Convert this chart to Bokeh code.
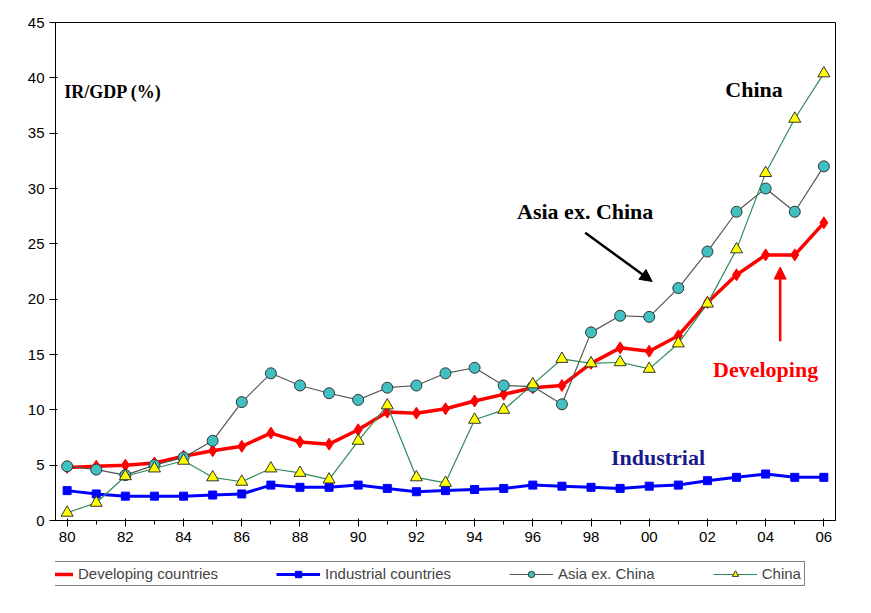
from bokeh.plotting import figure
from bokeh.layouts import column
from bokeh.models import Legend, Arrow, NormalHead, Label, FixedTicker
from bokeh.embed import file_html
from bokeh.resources import INLINE

years = list(range(1980, 2007))
developing = [4.8, 4.9, 5.0, 5.2, 5.8, 6.3, 6.7, 7.9, 7.1, 6.9, 8.2, 9.8, 9.7, 10.1, 10.8, 11.4,
              12.0, 12.2, 14.2, 15.6, 15.3, 16.7, 19.7, 22.2, 24.0, 24.0, 26.9]
industrial = [2.7, 2.4, 2.2, 2.2, 2.2, 2.3, 2.4, 3.2, 3.0, 3.0, 3.2, 2.9, 2.6, 2.7, 2.8, 2.9,
              3.2, 3.1, 3.0, 2.9, 3.1, 3.2, 3.6, 3.9, 4.2, 3.9, 3.9]
asia_ex_china = [4.9, 4.6, 4.1, 5.0, 5.7, 7.2, 10.7, 13.3, 12.2, 11.5, 10.9, 12.0, 12.2, 13.3, 13.8, 12.2,
                 12.1, 10.5, 17.0, 18.5, 18.4, 21.0, 24.3, 27.9, 30.0, 27.9, 32.0]
china = [0.7, 1.6, 4.0, 4.7, 5.4, 3.9, 3.5, 4.7, 4.3, 3.7, 7.2, 10.4, 3.9, 3.4, 9.1, 10.0,
         12.3, 14.6, 14.2, 14.3, 13.7, 16.0, 19.6, 24.5, 31.4, 36.3, 40.4]
tick_years = list(range(1980, 2007, 2))
tick_labels = {y: f"{y % 100:02d}" for y in tick_years}
names = ["Developing countries", "Industrial countries", "Asia ex. China", "China"]


def add_series(fig, xs, ys):
    out = []
    out.append((fig.line(xs, ys[0], line_color="red", line_width=3.5),
                fig.scatter(xs, ys[0], marker="diamond", size=12, color="red")))
    out.append((fig.line(xs, ys[1], line_color="blue", line_width=3),
                fig.scatter(xs, ys[1], marker="square", size=8, color="blue")))
    out.append((fig.line(xs, ys[2], line_color="#555555", line_width=1.2),
                fig.scatter(xs, ys[2], marker="circle", size=11, fill_color="#40c0c0", line_color="#333333")))
    out.append((fig.line(xs, ys[3], line_color="#2e8b57", line_width=1.2),
                fig.scatter(xs, ys[3], marker="triangle", size=12, fill_color="yellow", line_color="#333333")))
    return out


p = figure(width=855, height=550, x_range=(1979.6, 2006.4), y_range=(0, 45),
           output_backend="svg", toolbar_location=None,
           min_border_left=55, min_border_right=20, min_border_top=22, min_border_bottom=30)
p.xgrid.visible = False
p.ygrid.visible = False
p.outline_line_color = "black"

p.xaxis.ticker = FixedTicker(ticks=tick_years, minor_ticks=years)
p.xaxis.major_label_overrides = tick_labels
p.yaxis.ticker = FixedTicker(ticks=list(range(0, 46, 5)))
for ax in (p.xaxis[0], p.yaxis[0]):
    ax.major_label_text_font = "Liberation Sans"
    ax.major_label_text_font_size = "15px"
    ax.major_label_text_color = "black"
    ax.axis_line_color = "black"
    ax.major_tick_line_color = "black"
    ax.minor_tick_line_color = "black"
p.yaxis.minor_tick_line_color = None

add_series(p, years, [developing, industrial, asia_ex_china, china])

serif = dict(text_font="Liberation Serif", text_font_style="bold", text_font_size="22px")
p.add_layout(Label(x=1979.9, y=37.8, text="IR/GDP (%)", text_font="Liberation Serif",
                   text_font_style="bold", text_font_size="18px", text_color="black"))
p.add_layout(Label(x=2003.6, y=37.8, text="China", text_align="center", text_color="black", **serif))
p.add_layout(Label(x=1997.8, y=26.8, text="Asia ex. China", text_align="center", text_color="black", **serif))
p.add_layout(Label(x=2004.0, y=12.5, text="Developing", text_align="center", text_color="red", **serif))
p.add_layout(Label(x=2000.3, y=4.6, text="Industrial", text_align="center", text_color="#1a1a8c", **serif))
p.add_layout(Arrow(x_start=1997.8, y_start=26.0, x_end=2000.1, y_end=21.6, line_width=2.5,
                   end=NormalHead(size=12, fill_color="black", line_color="black")))
p.add_layout(Arrow(x_start=2004.5, y_start=16.2, x_end=2004.5, y_end=22.9, line_width=2.5,
                   line_color="red", end=NormalHead(size=12, fill_color="red", line_color="red")))

# legend strip below the chart (series drawn outside its visible range)
lg = figure(width=855, height=42, x_range=(0, 1), y_range=(0, 1), output_backend="svg",
            toolbar_location=None, min_border=0)
lg.axis.visible = False
lg.grid.visible = False
lg.outline_line_color = None
pairs = add_series(lg, [-5, -4], [[-5, -5]] * 4)
legend = Legend(items=[(n, list(r)) for n, r in zip(names, pairs)],
                orientation="horizontal", border_line_color="black",
                label_text_font="Liberation Sans", label_text_font_size="15px",
                spacing=58, padding=3, margin=0, location=(-30, 6), label_height=16,
                glyph_height=16, glyph_width=44)
lg.add_layout(legend)

open("out.html", "w").write(file_html(column(p, lg, spacing=0), INLINE))
